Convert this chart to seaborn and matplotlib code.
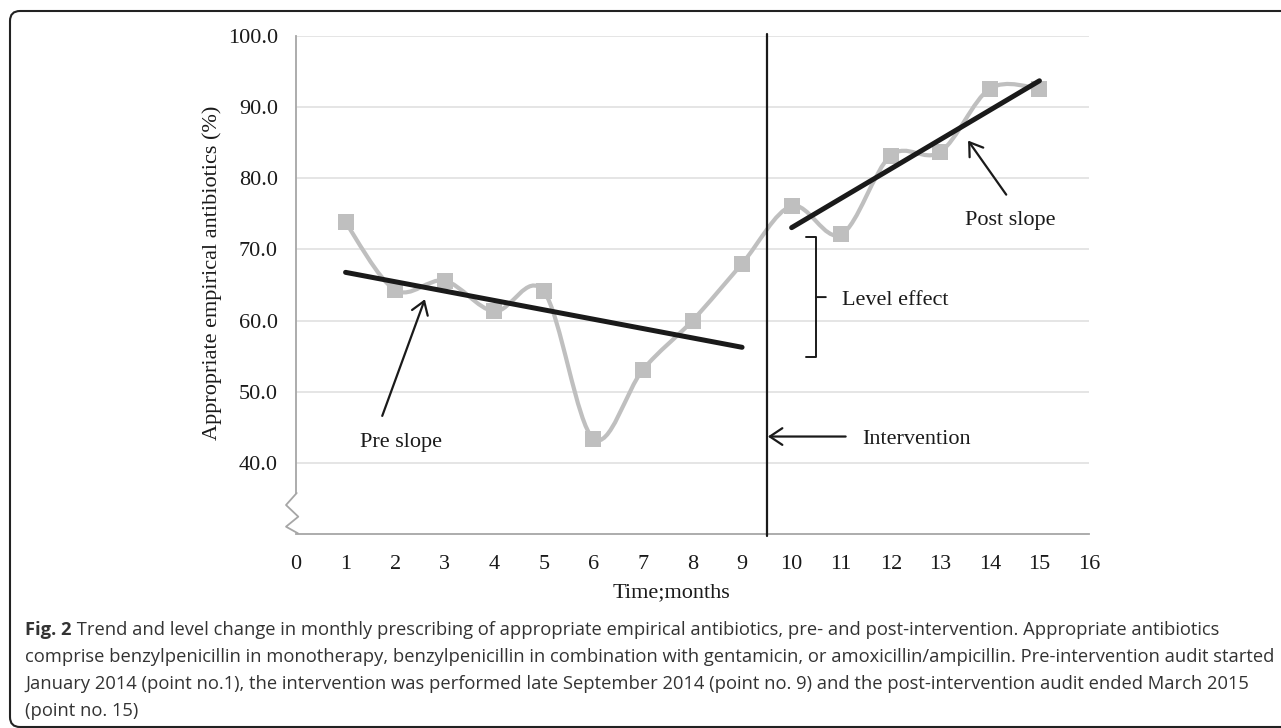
import numpy as np
import pandas as pd
import matplotlib
matplotlib.use("Agg")
from matplotlib import pyplot as plt
from matplotlib.path import Path
from matplotlib.patches import PathPatch, FancyBboxPatch
from matplotlib import transforms as mtransforms
import seaborn as sns

# data
months = [1, 2, 3, 4, 5, 6, 7, 8, 9, 10, 11, 12, 13, 14, 15]
pct = [73.8, 64.3, 65.6, 61.3, 64.1, 43.4, 53.1, 60.0, 68.0,
       76.1, 72.1, 83.2, 83.7, 92.6, 92.6]
intervention_at = 9.5
x_ticks = list(range(0, 17))
y_ticks = [40, 50, 60, 70, 80, 90, 100]

caption_bold = "Fig. 2"
caption_lines = [
    " Trend and level change in monthly prescribing of appropriate empirical antibiotics, pre- and post-intervention. Appropriate antibiotics",
    "comprise benzylpenicillin in monotherapy, benzylpenicillin in combination with gentamicin, or amoxicillin/ampicillin. Pre-intervention audit started",
    "January 2014 (point no.1), the intervention was performed late September 2014 (point no. 9) and the post-intervention audit ended March 2015",
    "(point no. 15)",
]

df = pd.DataFrame({"month": months, "pct": pct})
pre = df[df["month"] < intervention_at]
post = df[df["month"] > intervention_at]

sns.set_style("white")
plt.rcParams["font.family"] = ["Liberation Serif", "DejaVu Serif"]

GREY = "#bfbfbf"
AXGREY = "#a6a6a6"
INK = "#1a1a1a"

fig = plt.figure(figsize=(12.81, 7.28), dpi=100)
ax = fig.add_axes([296 / 1281, 1 - 534 / 728, 793 / 1281, 498 / 728])

# smoothed connecting line (Excel style bezier through the points)
pts = list(zip(df["month"], df["pct"]))
verts = [pts[0]]
codes = [Path.MOVETO]
for i in range(len(pts) - 1):
    p0 = pts[i - 1] if i > 0 else pts[i]
    p1 = pts[i]
    p2 = pts[i + 1]
    p3 = pts[i + 2] if i + 2 < len(pts) else p2
    c1 = (p1[0] + (p2[0] - p0[0]) / 6, p1[1] + (p2[1] - p0[1]) / 6)
    c2 = (p2[0] - (p3[0] - p1[0]) / 6, p2[1] - (p3[1] - p1[1]) / 6)
    verts += [c1, c2, p2]
    codes += [Path.CURVE4] * 3
ax.add_patch(PathPatch(Path(verts, codes), facecolor="none", edgecolor=GREY,
                       lw=3.0, zorder=2))

sns.scatterplot(data=df, x="month", y="pct", marker="s", s=130, color=GREY,
                linewidth=0, ax=ax, zorder=3)

# pre / post trend lines
for part in (pre, post):
    sns.regplot(data=part, x="month", y="pct", scatter=False, ci=None, ax=ax,
                line_kws=dict(color=INK, lw=3.6, solid_capstyle="round", zorder=4))

ax.axvline(intervention_at, ymin=-0.004, ymax=1.005, color=INK, lw=1.6,
           clip_on=False, zorder=5)

ax.set_xlim(0, 16)
ax.set_ylim(30, 100)
ax.set_xticks(x_ticks)
ax.set_yticks(y_ticks)
ax.set_yticklabels([f"{v:.1f}" for v in y_ticks])
ax.tick_params(length=0, labelsize=16, colors=INK)
ax.tick_params(axis="x", pad=15)
ax.tick_params(axis="y", pad=13)
ax.yaxis.grid(True, color="#dedede", lw=1.1)
ax.set_axisbelow(True)

ax.set_xlabel("Time;months", fontsize=16, color=INK)
ax.xaxis.set_label_coords(0.474, -0.098)
ax.set_ylabel("Appropriate empirical antibiotics (%)", fontsize=16, color=INK)
ax.yaxis.set_label_coords(-0.093, 0.524)

for side in ("top", "right"):
    ax.spines[side].set_visible(False)
ax.spines["left"].set_color(AXGREY)
ax.spines["bottom"].set_color(AXGREY)
ax.spines["left"].set_linewidth(1.3)
ax.spines["bottom"].set_linewidth(1.3)
ax.spines["left"].set_bounds(35.8, 100)

# axis break zigzag
zig_x = [0.0009, -0.0126, 0.0029, -0.0126, 0.0025]
zig_y = [0.0823, 0.0582, 0.0348, 0.0147, 0.0013]
ax.plot(zig_x, zig_y, transform=ax.transAxes, color=AXGREY, lw=1.3,
        clip_on=False)

# annotations
arrow = dict(arrowstyle="->,head_length=0.45,head_width=0.3", color=INK,
             lw=1.6, mutation_scale=20, shrinkA=0, shrinkB=0)
ax.annotate("", xy=(2.60, 63.0), xytext=(1.74, 46.6), arrowprops=arrow)
ax.text(2.12, 42.8, "Pre slope", fontsize=16, color=INK, ha="center", va="center")

ax.annotate("", xy=(13.56, 85.3), xytext=(14.33, 77.7), arrowprops=arrow)
ax.text(14.41, 74.1, "Post slope", fontsize=16, color=INK, ha="center", va="center")

ax.annotate("", xy=(9.52, 43.7), xytext=(11.09, 43.7), arrowprops=arrow)
ax.text(11.42, 43.3, "Intervention", fontsize=16, color=INK, ha="left", va="center")

ax.annotate("", xy=(10.49, 63.3), xytext=(10.69, 63.3),
            arrowprops=dict(arrowstyle="-[,widthB=4.3,lengthB=0.7", color=INK,
                            lw=1.4, mutation_scale=10, shrinkA=0, shrinkB=0))
ax.text(11.02, 62.8, "Level effect", fontsize=16, color=INK, ha="left", va="center")

# caption
cap_font = ["Open Sans", "DejaVu Sans"]
CAP = "#333333"
CAP_SIZE = 13.2
y0 = 1 - 630 / 728
t = fig.text(25 / 1281, y0, caption_bold, fontsize=CAP_SIZE, fontweight="bold",
             family=cap_font, color=CAP, va="center")
ax.annotate(caption_lines[0], xy=(1, 0.5), xycoords=t, va="center",
            fontsize=CAP_SIZE, family=cap_font, color=CAP, annotation_clip=False)
for k, line in enumerate(caption_lines[1:], start=1):
    fig.text(25 / 1281, y0 - k * 27 / 728, line, fontsize=CAP_SIZE,
             family=cap_font, color=CAP, va="center")

# rounded frame round the figure
frame = FancyBboxPatch((10, 1), 1300, 716, boxstyle="round,pad=0,rounding_size=10",
                       transform=mtransforms.IdentityTransform(),
                       facecolor="none", edgecolor="#222222", lw=1.5)
fig.add_artist(frame)

fig.savefig("out.png", dpi=100)
